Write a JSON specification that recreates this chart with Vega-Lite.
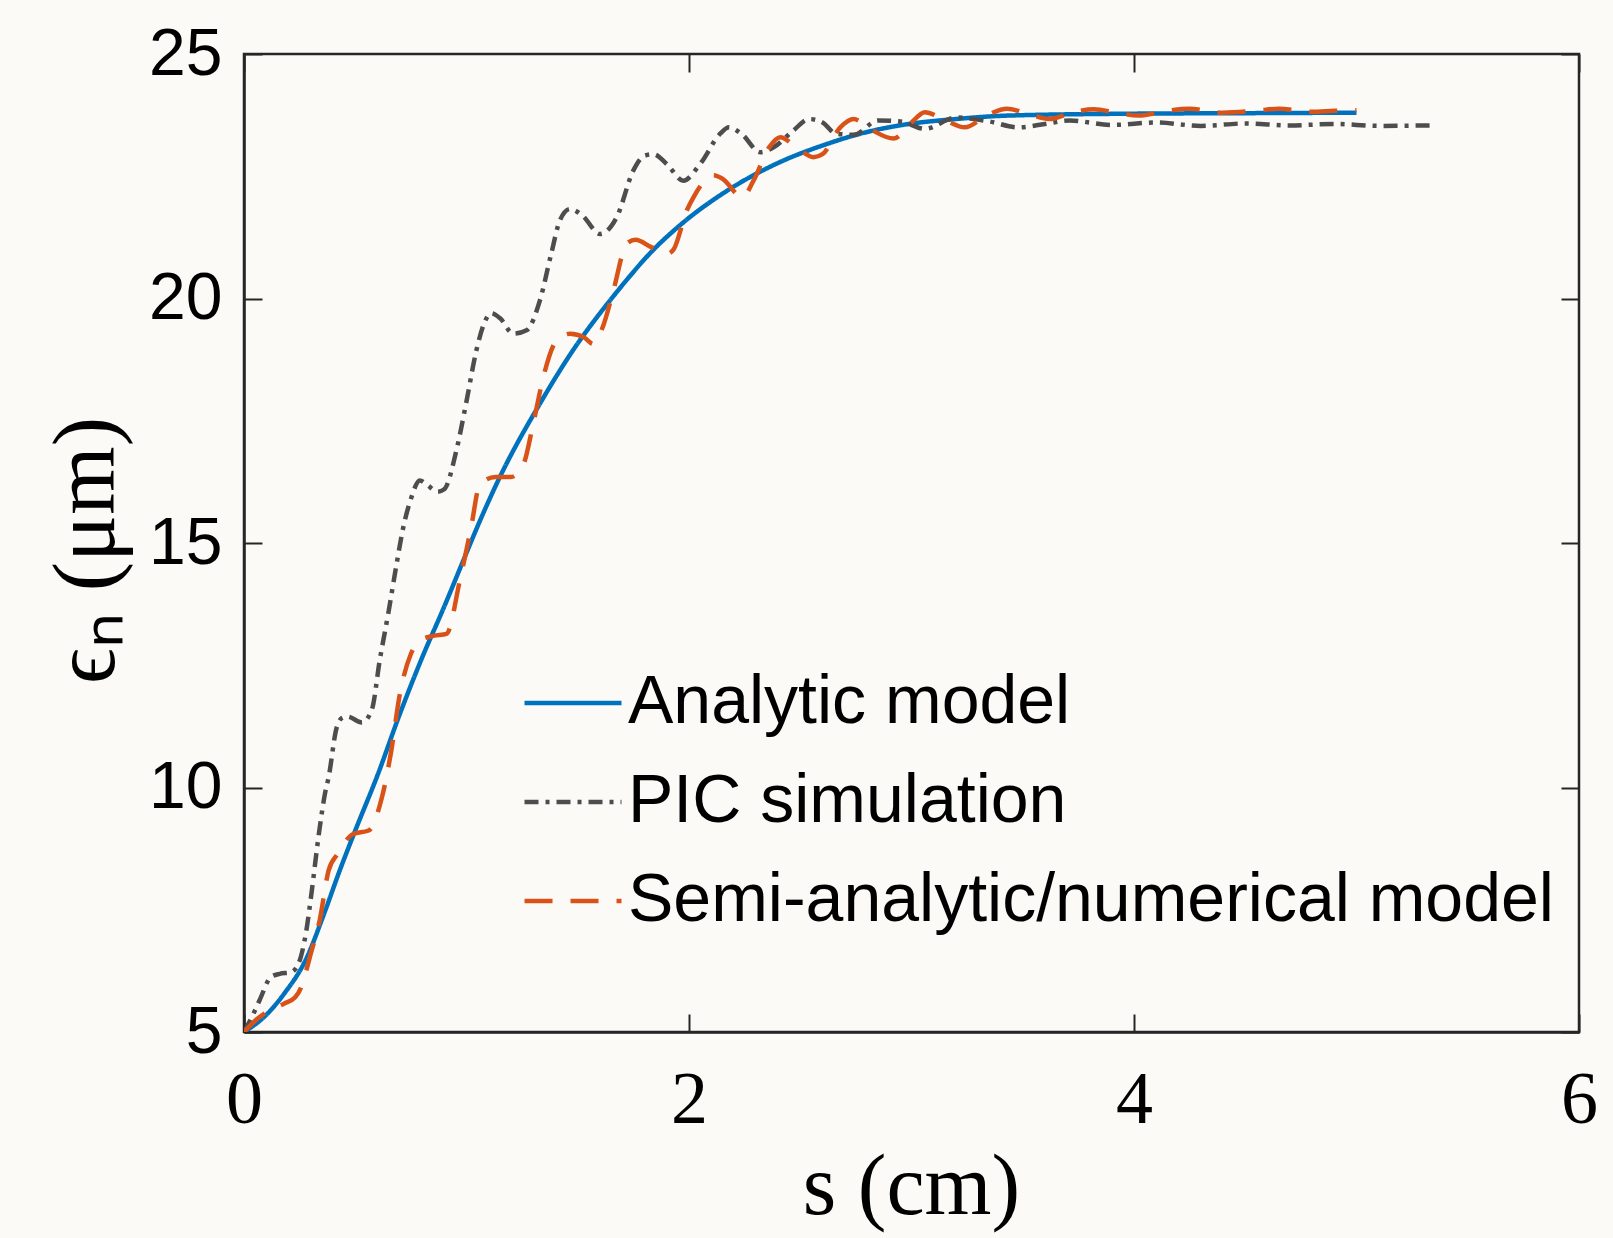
{
  "$schema": "https://vega.github.io/schema/vega-lite/v6.json",
  "width": 1335,
  "height": 978,
  "autosize": {"type": "none"},
  "padding": {"left": 244, "top": 54, "right": 34, "bottom": 206},
  "background": "#fbfaf7",
  "config": {
    "view": {"stroke": "#262626", "strokeWidth": 2.5},
    "axis": {"domainColor": "#262626", "domainWidth": 2.5, "tickColor": "#262626", "tickWidth": 2, "grid": false, "labelColor": "#000000", "titleColor": "#000000", "labelFlush": false, "labelOverlap": false}
  },
  "data": {"values": [
    {"s": 0, "e": 5.0, "m": "Analytic model"},
    {"s": 0.1, "e": 5.35, "m": "Analytic model"},
    {"s": 0.18, "e": 5.78, "m": "Analytic model"},
    {"s": 0.28, "e": 6.5, "m": "Analytic model"},
    {"s": 0.36, "e": 7.42, "m": "Analytic model"},
    {"s": 0.43, "e": 8.3, "m": "Analytic model"},
    {"s": 0.5, "e": 9.12, "m": "Analytic model"},
    {"s": 0.6, "e": 10.25, "m": "Analytic model"},
    {"s": 0.7, "e": 11.5, "m": "Analytic model"},
    {"s": 0.8, "e": 12.65, "m": "Analytic model"},
    {"s": 0.9, "e": 13.7, "m": "Analytic model"},
    {"s": 1.0, "e": 14.8, "m": "Analytic model"},
    {"s": 1.06, "e": 15.45, "m": "Analytic model"},
    {"s": 1.15, "e": 16.35, "m": "Analytic model"},
    {"s": 1.33, "e": 17.85, "m": "Analytic model"},
    {"s": 1.48, "e": 18.95, "m": "Analytic model"},
    {"s": 1.645, "e": 19.96, "m": "Analytic model"},
    {"s": 1.72, "e": 20.38, "m": "Analytic model"},
    {"s": 1.83, "e": 20.95, "m": "Analytic model"},
    {"s": 1.96, "e": 21.5, "m": "Analytic model"},
    {"s": 2.17, "e": 22.2, "m": "Analytic model"},
    {"s": 2.39, "e": 22.75, "m": "Analytic model"},
    {"s": 2.62, "e": 23.16, "m": "Analytic model"},
    {"s": 2.77, "e": 23.37, "m": "Analytic model"},
    {"s": 2.96, "e": 23.55, "m": "Analytic model"},
    {"s": 3.2, "e": 23.67, "m": "Analytic model"},
    {"s": 3.43, "e": 23.74, "m": "Analytic model"},
    {"s": 4.0, "e": 23.78, "m": "Analytic model"},
    {"s": 4.5, "e": 23.79, "m": "Analytic model"},
    {"s": 5.0, "e": 23.8, "m": "Analytic model"},

    {"s": 0, "e": 5.0, "m": "PIC simulation"},
    {"s": 0.04, "e": 5.35, "m": "PIC simulation"},
    {"s": 0.07, "e": 5.65, "m": "PIC simulation"},
    {"s": 0.12, "e": 6.12, "m": "PIC simulation"},
    {"s": 0.16, "e": 6.19, "m": "PIC simulation"},
    {"s": 0.21, "e": 6.22, "m": "PIC simulation"},
    {"s": 0.245, "e": 6.4, "m": "PIC simulation"},
    {"s": 0.28, "e": 7.07, "m": "PIC simulation"},
    {"s": 0.305, "e": 7.9, "m": "PIC simulation"},
    {"s": 0.335, "e": 9.0, "m": "PIC simulation"},
    {"s": 0.365, "e": 9.9, "m": "PIC simulation"},
    {"s": 0.38, "e": 10.2, "m": "PIC simulation"},
    {"s": 0.415, "e": 11.2, "m": "PIC simulation"},
    {"s": 0.44, "e": 11.42, "m": "PIC simulation"},
    {"s": 0.465, "e": 11.45, "m": "PIC simulation"},
    {"s": 0.53, "e": 11.33, "m": "PIC simulation"},
    {"s": 0.575, "e": 11.6, "m": "PIC simulation"},
    {"s": 0.61, "e": 12.6, "m": "PIC simulation"},
    {"s": 0.65, "e": 13.6, "m": "PIC simulation"},
    {"s": 0.685, "e": 14.55, "m": "PIC simulation"},
    {"s": 0.715, "e": 15.3, "m": "PIC simulation"},
    {"s": 0.75, "e": 15.9, "m": "PIC simulation"},
    {"s": 0.79, "e": 16.28, "m": "PIC simulation"},
    {"s": 0.82, "e": 16.2, "m": "PIC simulation"},
    {"s": 0.87, "e": 16.05, "m": "PIC simulation"},
    {"s": 0.9, "e": 16.1, "m": "PIC simulation"},
    {"s": 0.955, "e": 16.9, "m": "PIC simulation"},
    {"s": 1.0, "e": 17.9, "m": "PIC simulation"},
    {"s": 1.045, "e": 18.95, "m": "PIC simulation"},
    {"s": 1.08, "e": 19.5, "m": "PIC simulation"},
    {"s": 1.11, "e": 19.7, "m": "PIC simulation"},
    {"s": 1.15, "e": 19.6, "m": "PIC simulation"},
    {"s": 1.21, "e": 19.28, "m": "PIC simulation"},
    {"s": 1.27, "e": 19.35, "m": "PIC simulation"},
    {"s": 1.33, "e": 19.96, "m": "PIC simulation"},
    {"s": 1.38, "e": 20.9, "m": "PIC simulation"},
    {"s": 1.42, "e": 21.6, "m": "PIC simulation"},
    {"s": 1.465, "e": 21.83, "m": "PIC simulation"},
    {"s": 1.52, "e": 21.7, "m": "PIC simulation"},
    {"s": 1.6, "e": 21.32, "m": "PIC simulation"},
    {"s": 1.675, "e": 21.66, "m": "PIC simulation"},
    {"s": 1.75, "e": 22.62, "m": "PIC simulation"},
    {"s": 1.8, "e": 22.92, "m": "PIC simulation"},
    {"s": 1.84, "e": 22.95, "m": "PIC simulation"},
    {"s": 1.9, "e": 22.75, "m": "PIC simulation"},
    {"s": 1.974, "e": 22.41, "m": "PIC simulation"},
    {"s": 2.05, "e": 22.75, "m": "PIC simulation"},
    {"s": 2.14, "e": 23.37, "m": "PIC simulation"},
    {"s": 2.18, "e": 23.5, "m": "PIC simulation"},
    {"s": 2.24, "e": 23.35, "m": "PIC simulation"},
    {"s": 2.32, "e": 22.99, "m": "PIC simulation"},
    {"s": 2.38, "e": 23.09, "m": "PIC simulation"},
    {"s": 2.47, "e": 23.44, "m": "PIC simulation"},
    {"s": 2.54, "e": 23.67, "m": "PIC simulation"},
    {"s": 2.6, "e": 23.6, "m": "PIC simulation"},
    {"s": 2.66, "e": 23.37, "m": "PIC simulation"},
    {"s": 2.74, "e": 23.35, "m": "PIC simulation"},
    {"s": 2.85, "e": 23.64, "m": "PIC simulation"},
    {"s": 2.95, "e": 23.62, "m": "PIC simulation"},
    {"s": 3.06, "e": 23.47, "m": "PIC simulation"},
    {"s": 3.2, "e": 23.7, "m": "PIC simulation"},
    {"s": 3.35, "e": 23.62, "m": "PIC simulation"},
    {"s": 3.48, "e": 23.5, "m": "PIC simulation"},
    {"s": 3.6, "e": 23.57, "m": "PIC simulation"},
    {"s": 3.71, "e": 23.64, "m": "PIC simulation"},
    {"s": 3.9, "e": 23.55, "m": "PIC simulation"},
    {"s": 4.1, "e": 23.6, "m": "PIC simulation"},
    {"s": 4.3, "e": 23.53, "m": "PIC simulation"},
    {"s": 4.5, "e": 23.58, "m": "PIC simulation"},
    {"s": 4.7, "e": 23.54, "m": "PIC simulation"},
    {"s": 4.9, "e": 23.57, "m": "PIC simulation"},
    {"s": 5.1, "e": 23.53, "m": "PIC simulation"},
    {"s": 5.34, "e": 23.54, "m": "PIC simulation"},

    {"s": 0, "e": 5.0, "m": "Semi-analytic/numerical model"},
    {"s": 0.06, "e": 5.27, "m": "Semi-analytic/numerical model"},
    {"s": 0.12, "e": 5.45, "m": "Semi-analytic/numerical model"},
    {"s": 0.18, "e": 5.58, "m": "Semi-analytic/numerical model"},
    {"s": 0.23, "e": 5.71, "m": "Semi-analytic/numerical model"},
    {"s": 0.26, "e": 5.95, "m": "Semi-analytic/numerical model"},
    {"s": 0.28, "e": 6.26, "m": "Semi-analytic/numerical model"},
    {"s": 0.3, "e": 6.6, "m": "Semi-analytic/numerical model"},
    {"s": 0.34, "e": 7.28, "m": "Semi-analytic/numerical model"},
    {"s": 0.38, "e": 8.3, "m": "Semi-analytic/numerical model"},
    {"s": 0.42, "e": 8.64, "m": "Semi-analytic/numerical model"},
    {"s": 0.49, "e": 9.05, "m": "Semi-analytic/numerical model"},
    {"s": 0.56, "e": 9.12, "m": "Semi-analytic/numerical model"},
    {"s": 0.62, "e": 9.8, "m": "Semi-analytic/numerical model"},
    {"s": 0.66, "e": 10.7, "m": "Semi-analytic/numerical model"},
    {"s": 0.7, "e": 11.9, "m": "Semi-analytic/numerical model"},
    {"s": 0.75, "e": 12.73, "m": "Semi-analytic/numerical model"},
    {"s": 0.79, "e": 13.0, "m": "Semi-analytic/numerical model"},
    {"s": 0.85, "e": 13.1, "m": "Semi-analytic/numerical model"},
    {"s": 0.91, "e": 13.14, "m": "Semi-analytic/numerical model"},
    {"s": 0.97, "e": 14.23, "m": "Semi-analytic/numerical model"},
    {"s": 1.02, "e": 15.3, "m": "Semi-analytic/numerical model"},
    {"s": 1.06, "e": 16.2, "m": "Semi-analytic/numerical model"},
    {"s": 1.13, "e": 16.35, "m": "Semi-analytic/numerical model"},
    {"s": 1.2, "e": 16.35, "m": "Semi-analytic/numerical model"},
    {"s": 1.255, "e": 16.6, "m": "Semi-analytic/numerical model"},
    {"s": 1.3, "e": 17.44, "m": "Semi-analytic/numerical model"},
    {"s": 1.345, "e": 18.39, "m": "Semi-analytic/numerical model"},
    {"s": 1.405, "e": 19.14, "m": "Semi-analytic/numerical model"},
    {"s": 1.465, "e": 19.28, "m": "Semi-analytic/numerical model"},
    {"s": 1.53, "e": 19.2, "m": "Semi-analytic/numerical model"},
    {"s": 1.57, "e": 19.07, "m": "Semi-analytic/numerical model"},
    {"s": 1.615, "e": 19.45, "m": "Semi-analytic/numerical model"},
    {"s": 1.66, "e": 20.16, "m": "Semi-analytic/numerical model"},
    {"s": 1.72, "e": 21.12, "m": "Semi-analytic/numerical model"},
    {"s": 1.76, "e": 21.2, "m": "Semi-analytic/numerical model"},
    {"s": 1.83, "e": 21.05, "m": "Semi-analytic/numerical model"},
    {"s": 1.9, "e": 20.91, "m": "Semi-analytic/numerical model"},
    {"s": 1.93, "e": 21.0, "m": "Semi-analytic/numerical model"},
    {"s": 1.99, "e": 21.8, "m": "Semi-analytic/numerical model"},
    {"s": 2.02, "e": 22.07, "m": "Semi-analytic/numerical model"},
    {"s": 2.11, "e": 22.52, "m": "Semi-analytic/numerical model"},
    {"s": 2.15, "e": 22.45, "m": "Semi-analytic/numerical model"},
    {"s": 2.24, "e": 22.07, "m": "Semi-analytic/numerical model"},
    {"s": 2.29, "e": 22.41, "m": "Semi-analytic/numerical model"},
    {"s": 2.36, "e": 23.09, "m": "Semi-analytic/numerical model"},
    {"s": 2.41, "e": 23.3, "m": "Semi-analytic/numerical model"},
    {"s": 2.48, "e": 23.1, "m": "Semi-analytic/numerical model"},
    {"s": 2.56, "e": 22.89, "m": "Semi-analytic/numerical model"},
    {"s": 2.6, "e": 22.95, "m": "Semi-analytic/numerical model"},
    {"s": 2.68, "e": 23.5, "m": "Semi-analytic/numerical model"},
    {"s": 2.74, "e": 23.67, "m": "Semi-analytic/numerical model"},
    {"s": 2.82, "e": 23.45, "m": "Semi-analytic/numerical model"},
    {"s": 2.92, "e": 23.27, "m": "Semi-analytic/numerical model"},
    {"s": 3.0, "e": 23.6, "m": "Semi-analytic/numerical model"},
    {"s": 3.06, "e": 23.81, "m": "Semi-analytic/numerical model"},
    {"s": 3.15, "e": 23.65, "m": "Semi-analytic/numerical model"},
    {"s": 3.24, "e": 23.5, "m": "Semi-analytic/numerical model"},
    {"s": 3.34, "e": 23.75, "m": "Semi-analytic/numerical model"},
    {"s": 3.43, "e": 23.88, "m": "Semi-analytic/numerical model"},
    {"s": 3.52, "e": 23.78, "m": "Semi-analytic/numerical model"},
    {"s": 3.62, "e": 23.67, "m": "Semi-analytic/numerical model"},
    {"s": 3.72, "e": 23.8, "m": "Semi-analytic/numerical model"},
    {"s": 3.82, "e": 23.87, "m": "Semi-analytic/numerical model"},
    {"s": 3.92, "e": 23.8, "m": "Semi-analytic/numerical model"},
    {"s": 4.02, "e": 23.74, "m": "Semi-analytic/numerical model"},
    {"s": 4.15, "e": 23.84, "m": "Semi-analytic/numerical model"},
    {"s": 4.25, "e": 23.88, "m": "Semi-analytic/numerical model"},
    {"s": 4.4, "e": 23.8, "m": "Semi-analytic/numerical model"},
    {"s": 4.55, "e": 23.84, "m": "Semi-analytic/numerical model"},
    {"s": 4.65, "e": 23.88, "m": "Semi-analytic/numerical model"},
    {"s": 4.8, "e": 23.82, "m": "Semi-analytic/numerical model"},
    {"s": 4.9, "e": 23.84, "m": "Semi-analytic/numerical model"},
    {"s": 5.0, "e": 23.85, "m": "Semi-analytic/numerical model"}
  ]},
  "layer": [
    {
      "mark": {"type": "line", "interpolate": "monotone", "strokeWidth": 4.5, "clip": true},
      "encoding": {
        "x": {"field": "s", "type": "quantitative", "scale": {"domain": [0, 6], "nice": false},
          "axis": {"values": [0, 2, 4, 6], "format": "d", "tickSize": -18, "labelPadding": 50, "labelFont": "Liberation Serif", "labelFontSize": 74, "labelBaseline": "top",
            "title": "s (cm)", "titleFont": "Liberation Serif", "titleFontSize": 86, "titleFontWeight": "normal", "titleBaseline": "middle", "titleY": 155, "titleX": 667}},
        "y": {"field": "e", "type": "quantitative", "scale": {"domain": [5, 25], "nice": false, "zero": false},
          "axis": {"values": [5, 10, 15, 20, 25], "tickSize": -18, "labelPadding": 40, "labelFont": "Liberation Sans", "labelFontSize": 66, "labelBaseline": "middle",
            "title": "ϵₙ (μm)", "titleFont": "Liberation Serif", "titleFontSize": 88, "titleFontWeight": "normal", "titleAngle": -90, "titleAlign": "center", "titleBaseline": "middle", "titleX": -157, "titleY": 496}},
        "color": {"field": "m", "type": "nominal",
          "scale": {"domain": ["Analytic model", "PIC simulation", "Semi-analytic/numerical model"], "range": ["#0072BD", "#4D4D4D", "#D95319"]},
          "legend": {"title": null, "orient": "none", "legendX": 278, "legendY": 598, "symbolType": "stroke", "symbolSize": 9400, "symbolStrokeWidth": 4.5, "labelFont": "Liberation Sans", "labelFontSize": 68, "labelColor": "#000000", "labelOffset": 4, "labelLimit": 2000, "rowPadding": 14}},
        "strokeDash": {"field": "m", "type": "nominal",
          "scale": {"domain": ["Analytic model", "PIC simulation", "Semi-analytic/numerical model"], "range": [[1, 0], [14, 7, 4, 7], [28, 18]]},
          "legend": {"title": null, "orient": "none", "legendX": 278, "legendY": 598, "symbolType": "stroke", "symbolSize": 9400, "symbolStrokeWidth": 4.5, "labelFont": "Liberation Sans", "labelFontSize": 68, "labelColor": "#000000", "labelOffset": 4, "labelLimit": 2000, "rowPadding": 14}}
      }
    },
    {
      "mark": {"type": "line", "strokeOpacity": 0},
      "encoding": {
        "x": {"field": "s", "type": "quantitative", "scale": {"domain": [0, 6], "nice": false},
          "axis": {"orient": "top", "values": [0, 2, 4, 6], "tickSize": -18, "labels": false, "domain": false, "title": null}},
        "y": {"field": "e", "type": "quantitative", "scale": {"domain": [5, 25], "nice": false, "zero": false},
          "axis": {"orient": "right", "values": [5, 10, 15, 20, 25], "tickSize": -18, "labels": false, "domain": false, "title": null}},
        "detail": {"field": "m", "type": "nominal"}
      }
    }
  ],
  "resolve": {"axis": {"x": "independent", "y": "independent"}}
}
